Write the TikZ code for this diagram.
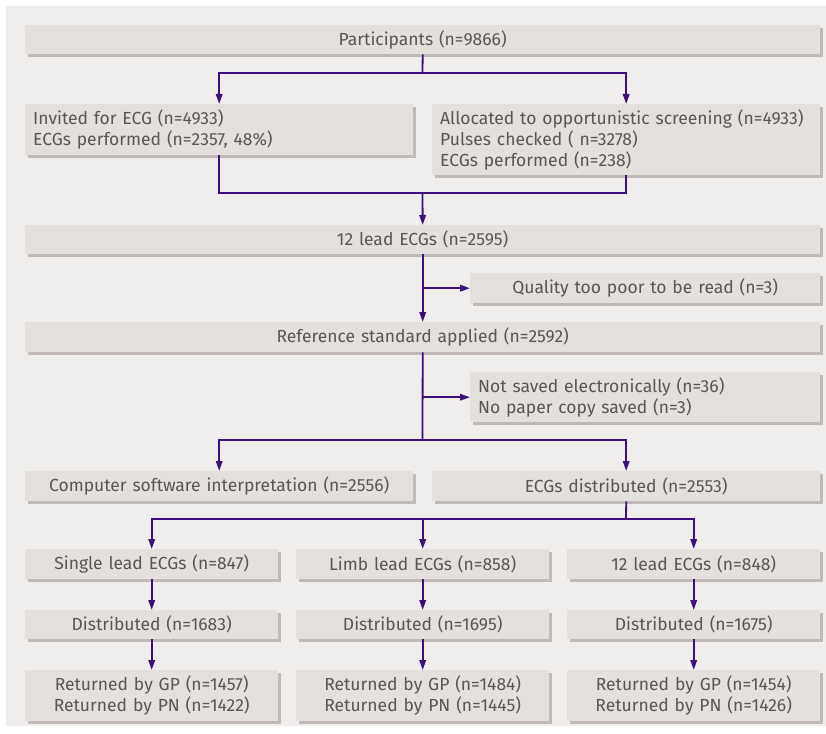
\documentclass[tikz,border=0pt]{standalone}
\usepackage{fontspec}
\setmainfont{Fira Sans}
\usetikzlibrary{arrows.meta,shadows}
\definecolor{panelgray}{HTML}{F0EEEC}
\definecolor{boxgray}{HTML}{E4E0DD}
\definecolor{shadegray}{HTML}{C2BAB6}
\definecolor{textgray}{HTML}{575757}
\definecolor{flowpurple}{HTML}{3D0F7A}
\tikzset{
    flowbox/.style={
        rectangle,
        fill=boxgray, % 方框填充浅灰
        drop shadow={shadow xshift=2.5pt, shadow yshift=-2.5pt, fill=shadegray, opacity=1},
        inner xsep=8pt,
        inner ysep=0pt,
        text=textgray,
        font=\fontsize{17.5}{21}\selectfont,
        anchor=north west
    },
    widebox/.style={flowbox, text width=779pt, align=center, minimum height=29pt},
    halfbox/.style={flowbox, text width=372pt, align=left},
    sidebox/.style={flowbox, text width=334pt},
    thirdbox/.style={flowbox, text width=237pt, align=center},
    flowline/.style={
        draw=flowpurple, % 连线深紫色
        line width=1.8pt
    },
    flowarrow/.style={flowline, -{Triangle[length=10pt,width=6.5pt]}}
}
\begin{document}
\begin{tikzpicture}[x=1pt, y=-1pt]
    \useasboundingbox (0,0) rectangle (826,733);
    \fill[white] (0,0) rectangle (826,733);
    \fill[panelgray] (6,6) rectangle (826,726);

    % 上半部分
    \node[widebox] (part) at (25,25) {Participants (n=9866)};
    \node[halfbox, minimum height=51pt] (inv) at (25,104)
        {Invited for ECG (n=4933)\\ECGs performed (n=2357, 48\%)};
    \node[halfbox, minimum height=71pt] (alloc) at (432,104)
        {Allocated to opportunistic screening (n=4933)\\Pulses checked ( n=3278)\\ECGs performed (n=238)};
    \node[widebox] (lead) at (25,225) {12 lead ECGs (n=2595)};
    \node[sidebox, align=center, minimum height=30pt] (poor) at (470,273) {Quality too poor to be read (n=3)};
    \node[widebox, minimum height=30pt] (ref) at (25,322) {Reference standard applied (n=2592)};
    \node[sidebox, align=left, minimum height=50pt] (lost) at (470,372)
        {Not saved electronically (n=36)\\No paper copy saved (n=3)};
    \node[halfbox, align=center, minimum height=30pt] (comp) at (25,471) {Computer software interpretation (n=2556)};
    \node[halfbox, align=center, minimum height=30pt] (distr) at (432,471) {ECGs distributed (n=2553)};

    % 三列
    \node[thirdbox, minimum height=30pt] (ecgA) at (25,549) {Single lead ECGs (n=847)};
    \node[thirdbox, minimum height=30pt] (ecgB) at (296,549) {Limb lead ECGs (n=858)};
    \node[thirdbox, minimum height=30pt] (ecgC) at (567,549) {12 lead ECGs (n=848)};
    \node[thirdbox, minimum height=29pt] (sentA) at (25,610) {Distributed (n=1683)};
    \node[thirdbox, minimum height=29pt] (sentB) at (296,610) {Distributed (n=1695)};
    \node[thirdbox, minimum height=29pt] (sentC) at (567,610) {Distributed (n=1675)};
    \node[thirdbox, minimum height=51pt] (backA) at (25,670)
        {Returned by GP (n=1457)\\Returned by PN (n=1422)};
    \node[thirdbox, minimum height=51pt] (backB) at (296,670)
        {Returned by GP (n=1484)\\Returned by PN (n=1445)};
    \node[thirdbox, minimum height=51pt] (backC) at (567,670)
        {Returned by GP (n=1454)\\Returned by PN (n=1426)};

    % 连线
    \coordinate (fork1) at (422.5,73);
    \coordinate (join1) at (422.5,193);
    \coordinate (fork2) at (422.5,440);
    \coordinate (fork3) at (626,519);

    \draw[flowline] (part.south) -- (fork1);
    \draw[flowarrow] (fork1) -| (inv.north);
    \draw[flowarrow] (fork1) -| (alloc.north);
    \draw[flowline] (inv.south) |- (join1);
    \draw[flowline] (alloc.south) |- (join1);
    \draw[flowarrow] (join1) -- (lead.north);

    \draw[flowarrow] (lead.south) -- (ref.north);
    \draw[flowarrow] (lead.south |- poor.west) -- (poor.west);

    \draw[flowline] (ref.south) -- (fork2);
    \draw[flowarrow] (ref.south |- lost.west) -- (lost.west);
    \draw[flowarrow] (fork2) -| (comp.north);
    \draw[flowarrow] (fork2) -| (distr.north);

    \draw[flowline] (distr.south) -- (fork3);
    \draw[flowarrow] (fork3) -| (ecgA.north);
    \draw[flowarrow] (fork3) -| (ecgB.north);
    \draw[flowarrow] (fork3) -| (ecgC.north);

    \foreach \col in {A,B,C} {
        \draw[flowarrow] (ecg\col.south) -- (sent\col.north);
        \draw[flowarrow] (sent\col.south) -- (back\col.north);
    }
\end{tikzpicture}
\end{document}
